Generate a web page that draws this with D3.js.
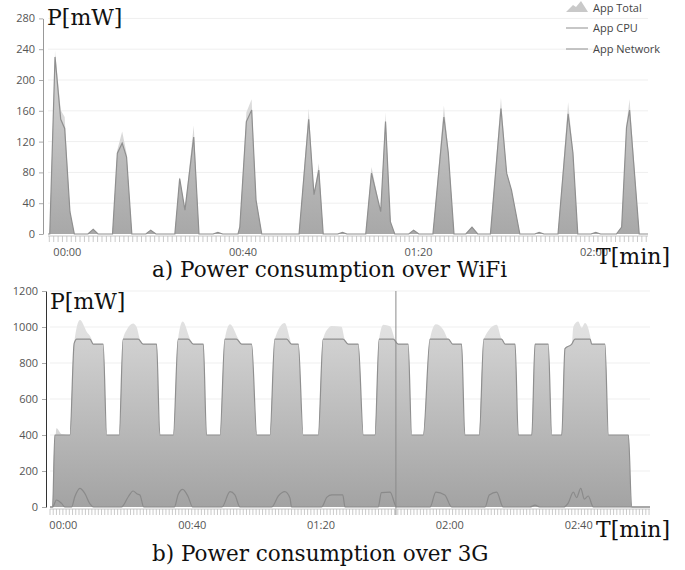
<!DOCTYPE html>
<html>
<head>
<meta charset="utf-8">
<script src="https://cdn.jsdelivr.net/npm/d3@7"></script>
<style>
  body { margin: 0; background: #fff; }
  svg { display: block; }
</style>
</head>
<body>
<div id="chart"></div>
<script>
// ---- data (time in seconds, power in mW) ----
// WiFi panel
const wifiTime = [-4.3,-3.9,-2.7,-1.4,-0.5,0.7,1.7,4.8,6.0,7.1,10.4,11.5,12.6,13.6,14.8,18.0,19.1,20.3,24.6,25.7,26.9,28.9,30.1,33.3,34.4,35.5,39.0,39.4,40.9,42.1,43.1,44.4,52.9,55.1,56.3,57.4,58.4,61.7,62.8,63.8,68.1,69.4,71.5,72.6,73.7,74.7,77.9,79.0,80.2,83.4,85.9,86.9,88.2,90.9,92.3,93.6,96.5,98.9,100.2,101.3,103.2,106.6,107.6,108.7,111.9,114.2,115.3,116.4,119.4,120.5,121.6,125.2,126.4,127.5,128.2,130.4,132.4];
const wifiTotal = [0,0,238,161,152,29,0,0,6,0,0,109,133,105,0,0,5,0,0,74,31,141,0,0,2,0,0,9,158,175,44,0,0,163,51,92,0,0,2,0,0,87,29,158,16,0,0,5,0,0,167,109,0,0,9,0,0,177,79,57,0,0,2,0,0,171,109,0,0,2,0,0,9,143,175,0,0];
const wifiCpu   = [0,0,230,149,137,29,0,0,6,0,0,105,118,100,0,0,5,0,0,72,31,126,0,0,2,0,0,9,146,161,44,0,0,149,51,83,0,0,2,0,0,79,29,146,16,0,0,5,0,0,152,105,0,0,9,0,0,163,79,57,0,0,2,0,0,156,105,0,0,2,0,0,9,138,161,0,0];

// 3G panel
const g3Network = [[-4.0,0],[-3.2,0],[-2.5,400],[2.2,400],[3.5,909],[4.3,933],[8.4,933],[9.4,905],[12.5,905],[13.6,400],[17.5,400],[18.7,933],[23.4,933],[24.9,905],[29.1,905],[30.1,400],[34.3,400],[35.8,933],[38.9,933],[40.5,905],[43.6,905],[44.6,400],[48.8,400],[50.3,933],[53.9,933],[55.5,905],[58.6,905],[60.2,400],[64.3,400],[65.8,933],[69.5,933],[71.0,905],[73.1,905],[74.6,400],[79.3,400],[80.8,933],[87.0,933],[88.6,905],[91.7,905],[93.3,400],[96.9,400],[98.2,933],[102.6,933],[104.1,905],[107.2,905],[108.3,400],[111.9,400],[114.0,933],[119.7,933],[121.0,905],[123.8,905],[124.8,400],[129.3,400],[130.7,933],[136.2,933],[137.3,905],[140.4,905],[141.4,400],[145.6,400],[146.6,905],[150.7,905],[151.8,400],[154.9,400],[155.9,880],[158.0,905],[159.0,933],[163.7,933],[164.2,905],[168.3,905],[169.4,400],[175.6,400],[176.6,0],[182.3,0]];
const g3Total = [[-4.0,0],[-3.2,0],[-2.0,437],[-0.4,405],[2.2,400],[3.5,909],[5.3,1039],[7.4,974],[8.9,933],[9.4,905],[12.5,905],[13.6,400],[17.5,400],[18.7,933],[19.8,983],[21.8,1020],[22.9,1000],[23.9,933],[24.9,905],[29.1,905],[30.1,400],[34.3,400],[35.8,933],[37.2,1030],[39.5,933],[40.5,905],[43.6,905],[44.6,400],[48.8,400],[50.3,933],[51.9,1015],[54.5,933],[55.5,905],[58.6,905],[60.2,400],[64.3,400],[65.8,933],[68.9,1022],[70.5,933],[71.0,905],[73.1,905],[74.6,400],[79.3,400],[80.8,933],[82.5,995],[83.5,1005],[86.5,1002],[87.5,933],[88.6,905],[91.7,905],[93.3,400],[96.9,400],[98.2,933],[99.5,1013],[101.6,1004],[103.1,933],[104.1,905],[107.2,905],[108.3,400],[111.9,400],[114.0,933],[115.8,1015],[118.1,985],[119.5,933],[121.0,905],[123.8,905],[124.8,400],[129.3,400],[130.7,933],[134.7,1013],[136.2,933],[137.3,905],[140.4,905],[141.4,400],[145.6,400],[146.6,905],[150.7,905],[151.8,400],[154.9,400],[155.9,880],[158.0,905],[158.5,1002],[160.0,1030],[161.1,996],[162.1,1022],[163.1,994],[163.9,933],[164.2,905],[168.3,905],[169.4,400],[175.6,400],[176.6,0],[182.3,0]];
const g3Cpu = [[-4.0,0],[-3.2,0],[-2.0,39],[-0.4,20],[0.6,0],[2.7,0],[3.7,57],[5.3,104],[6.8,76],[8.4,17],[9.5,0],[18.2,0],[20.3,57],[21.8,89],[23.1,72],[23.9,67],[25.1,0],[34.6,0],[35.8,70],[37.2,98],[38.9,57],[40.3,0],[49.4,0],[51.9,85],[53.4,67],[55.0,0],[64.8,0],[66.9,61],[68.9,85],[70.5,50],[71.0,0],[80.3,0],[82.0,55],[83.5,67],[86.9,67],[87.6,0],[97.9,0],[98.9,80],[101.6,83],[103.6,0],[114.0,0],[115.8,83],[118.6,67],[120.7,0],[131.1,0],[132.4,67],[134.7,83],[136.7,0],[145.0,0],[146.6,10],[148.0,0],[155.4,0],[156.9,22],[158.5,83],[159.5,52],[160.8,104],[161.9,44],[163.1,61],[164.7,0],[182.3,0]];
const g3Cursor = 103.4;

const wifiYTicks = [0, 40, 80, 120, 160, 200, 240, 280];
const g3YTicks = [0, 200, 400, 600, 800, 1000, 1200];
const wifiXTicks = [0, 40, 80, 120];
const g3XTicks = [0, 40, 80, 120, 160];
const legendLabels = ["App Total", "App CPU", "App Network"];
const captions = ["a) Power consumption over WiFi", "b) Power consumption over 3G"];

// ---- drawing ----
const W = 685, H = 570;
const svg = d3.select("#chart").append("svg").attr("width", W).attr("height", H);
const defs = svg.append("defs");
const fmt = s => d3.format("02")(Math.floor(s / 60)) + ":" + d3.format("02")(s % 60);

function grad(id, y1, y2, c1, c2) {
  const g = defs.append("linearGradient").attr("id", id)
    .attr("gradientUnits", "userSpaceOnUse")
    .attr("x1", 0).attr("x2", 0).attr("y1", y1).attr("y2", y2);
  g.append("stop").attr("offset", 0).attr("stop-color", c1);
  g.append("stop").attr("offset", 1).attr("stop-color", c2);
}

function panel(o) {
  const g = svg.append("g");
  const x = d3.scaleLinear().domain(o.xDomain).range([o.left, o.right]);
  const y = d3.scaleLinear().domain([0, o.yMax]).range([o.bottom, o.top]);

  // horizontal grid
  g.append("g").selectAll("line").data(o.yTicks.slice(1)).join("line")
    .attr("x1", o.left).attr("x2", o.right)
    .attr("y1", d => y(d)).attr("y2", d => y(d))
    .attr("stroke", "#efefef");

  grad(o.id + "-tot", o.top, o.bottom, "#e4e4e4", "#cfcfcf");
  grad(o.id + "-main", o.top, o.bottom, "#dedede", o.darkStop);

  const area = d3.area().curve(o.curve)
    .x(d => x(d[0])).y0(y(0)).y1(d => y(d[1]));
  const line = d3.line().curve(o.curve)
    .x(d => x(d[0])).y(d => y(d[1]));

  g.append("path").datum(o.total).attr("d", area)
    .attr("fill", `url(#${o.id}-tot)`);
  g.append("path").datum(o.main).attr("d", area)
    .attr("fill", `url(#${o.id}-main)`);
  g.append("path").datum(o.main).attr("d", line)
    .attr("fill", "none").attr("stroke", "#8f8f8f").attr("stroke-width", 1.2);
  if (o.cpuLine) {
    g.append("path").datum(o.cpuLine).attr("d", line)
      .attr("fill", "none").attr("stroke", "#8a8a8a").attr("stroke-width", 1.2);
  }

  if (o.cursor != null) {
    g.append("line").attr("x1", x(o.cursor)).attr("x2", x(o.cursor))
      .attr("y1", o.top).attr("y2", o.bottom + 8)
      .attr("stroke", "#8a8a8a").attr("stroke-width", 1);
  }

  // y axis
  const ya = g.append("g").attr("transform", `translate(${o.axisX},0)`)
    .call(d3.axisLeft(y).tickValues(o.yTicks).tickFormat(d3.format("d"))
      .tickSize(4).tickSizeOuter(0).tickPadding(4));
  ya.select(".domain").attr("stroke", o.axisColor);
  ya.selectAll(".tick line").attr("stroke", "#aaa");
  ya.selectAll("text").attr("fill", "#555").style("font-family", "'Open Sans', sans-serif").style("font-size", "11px");

  // minor tick band under the x axis
  const minor = d3.range(Math.ceil(o.xDomain[0]), o.xDomain[1]);
  g.append("line").attr("x1", o.left).attr("x2", o.right)
    .attr("y1", o.bottom + 2).attr("y2", o.bottom + 2).attr("stroke", "#c8c8c8");
  g.append("g").selectAll("line").data(minor).join("line")
    .attr("x1", d => x(d)).attr("x2", d => x(d))
    .attr("y1", o.bottom + 2).attr("y2", o.bottom + 8)
    .attr("stroke", "#bdbdbd").attr("stroke-width", 0.8);

  // x tick labels
  const xa = g.append("g").attr("transform", `translate(0,${o.bottom + 8})`)
    .call(d3.axisBottom(x).tickValues(o.xTicks).tickFormat(fmt).tickSize(0).tickPadding(6));
  xa.select(".domain").remove();
  xa.selectAll("text").attr("fill", "#555").style("font-family", "'Open Sans', sans-serif").style("font-size", "11px");

  // axis titles
  g.append("text").attr("x", o.axisX + 4).attr("y", o.titleY)
    .style("font-family", "'DejaVu Serif', serif").style("font-size", "22px")
    .attr("fill", "#111").text("P[mW]");
  g.append("text").attr("x", 670).attr("y", o.bottom + 30).attr("text-anchor", "end")
    .style("font-family", "'DejaVu Serif', serif").style("font-size", "22px")
    .attr("fill", "#111").text("T[min]");

  g.append("text").attr("x", 152).attr("y", o.captionY)
    .style("font-family", "'DejaVu Serif', serif").style("font-size", "21.5px")
    .attr("fill", "#111").text(o.caption);
}

const pair = (t, v) => t.map((d, i) => [d, v[i]]);

panel({
  id: "wifi", left: 48, right: 648, top: 18.4, bottom: 234, axisX: 43,
  xDomain: [-4.3, 132.4], yMax: 280, yTicks: wifiYTicks, xTicks: wifiXTicks,
  total: pair(wifiTime, wifiTotal), main: pair(wifiTime, wifiCpu),
  curve: d3.curveLinear, axisColor: "#999", darkStop: "#a8a8a8",
  titleY: 25, caption: captions[0], captionY: 277
});

panel({
  id: "g3", left: 50, right: 650, top: 291, bottom: 507, axisX: 46,
  xDomain: [-4.0, 182.3], yMax: 1200, yTicks: g3YTicks, xTicks: g3XTicks,
  total: g3Total, main: g3Network, cpuLine: g3Cpu, cursor: g3Cursor,
  curve: d3.curveMonotoneX, axisColor: "#333", darkStop: "#a3a3a3",
  titleY: 309, caption: captions[1], captionY: 561
});

// legend (top right)
const lg = svg.append("g").attr("transform", "translate(566,0)");
lg.append("path").attr("d", "M0,12 L7,5 L10,7 L15,1 L22,12 Z").attr("fill", "#c9c9c9");
lg.selectAll("line").data(legendLabels.slice(1)).join("line")
  .attr("x1", 0).attr("x2", 22)
  .attr("y1", (d, i) => 28 + i * 21).attr("y2", (d, i) => 28 + i * 21)
  .attr("stroke", "#8f8f8f").attr("stroke-width", 1);
lg.selectAll("text").data(legendLabels).join("text")
  .attr("x", 27).attr("y", (d, i) => 8 + i * 20.5).attr("dy", "0.35em")
  .style("font-family", "'Open Sans', sans-serif").style("font-size", "11px")
  .attr("fill", "#444").text(d => d);
</script>
</body>
</html>
